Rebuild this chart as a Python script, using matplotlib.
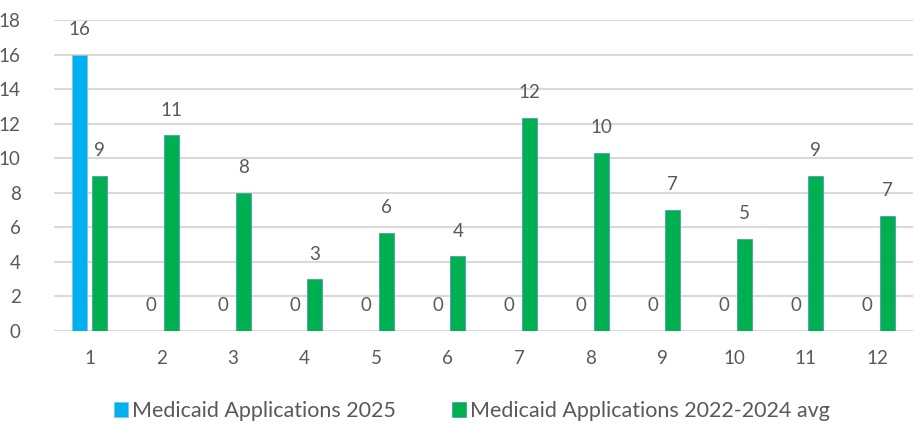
import matplotlib
matplotlib.use("Agg")
import matplotlib.pyplot as plt
import numpy as np

months = ["1", "2", "3", "4", "5", "6", "7", "8", "9", "10", "11", "12"]
apps_2025 = [16, 0, 0, 0, 0, 0, 0, 0, 0, 0, 0, 0]
apps_2022_2024_avg = [9.0, 11.33, 8.0, 3.0, 5.67, 4.33, 12.33, 10.33, 7.0, 5.33, 9.0, 6.67]
series_names = ["Medicaid Applications 2025", "Medicaid Applications 2022-2024 avg"]
y_ticks = [0, 2, 4, 6, 8, 10, 12, 14, 16, 18]

plt.rcParams["font.family"] = ["Lato", "DejaVu Sans"]
text_color = "#595959"
grid_color = "#D9D9D9"

fig = plt.figure(figsize=(9.16, 4.26), dpi=100)
ax = fig.add_axes([0.059, 0.223, 0.938, 0.730])

x = np.arange(1, len(months) + 1)
w = 0.21
off = 0.14
b1 = ax.bar(x - off, apps_2025, width=w, color="#00B0F0", edgecolor="#7FC8E0",
            linewidth=0.6, label=series_names[0], zorder=3)
b2 = ax.bar(x + off, apps_2022_2024_avg, width=w, color="#00B050", edgecolor="#4A9FB0",
            linewidth=0.6, label=series_names[1], zorder=3)

for bars, vals in ((b1, apps_2025), (b2, apps_2022_2024_avg)):
    for rect, v in zip(bars, vals):
        ax.annotate(f"{v:.0f}", (rect.get_x() + rect.get_width() / 2, v),
                    xytext=(0, 12), textcoords="offset points",
                    ha="center", va="bottom", fontsize=13.5, color=text_color)

ax.set_xlim(0.5, 12.5)
ax.set_ylim(0, 18)
ax.set_yticks(y_ticks)
ax.set_xticks(x)
ax.set_xticklabels(months)
ax.tick_params(axis="both", length=0, labelsize=13.5, colors=text_color)
ax.tick_params(axis="x", pad=14)
ax.tick_params(axis="y", pad=24)
for lbl in ax.get_yticklabels():
    lbl.set_horizontalalignment("right")
ax.grid(axis="y", color=grid_color, linewidth=1.5, zorder=0)
for s in ax.spines.values():
    s.set_visible(False)

leg = fig.legend(handles=[b1, b2], labels=series_names, loc="center",
                 bbox_to_anchor=(0.515, 0.035), ncol=2, frameon=False,
                 fontsize=15.5, handlelength=0.65, handleheight=0.65,
                 handletextpad=0.2, columnspacing=2.6)
for t in leg.get_texts():
    t.set_color(text_color)

fig.savefig("out.png", dpi=100)
